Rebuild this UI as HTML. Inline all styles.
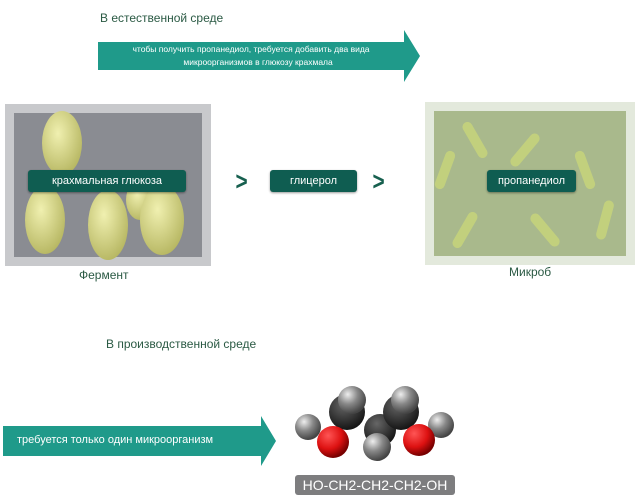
<!DOCTYPE html>
<html><head><meta charset="utf-8"><style>
body{margin:0;width:640px;height:502px;background:#fff;position:relative;overflow:hidden;font-family:"Liberation Sans",sans-serif}
.a{position:absolute}
.t{color:#2b5a44;font-size:12px}
.bar{position:absolute;background:#0f5d51;color:#fff;font-size:11px;text-align:center;border-radius:3px;line-height:22px;box-shadow:0 1px 2px #0006}
.chev{position:absolute;color:#17604f;font-size:26px;font-weight:bold;transform:scaleX(0.8)}
</style></head><body>
<div class="a t" style="left:100px;top:11px">В естественной среде</div>
<svg class="a" style="left:0;top:0" width="640" height="502">
<polygon points="98,42 404,42 404,30 420,56 404,82 404,70 98,70" fill="#1f9a8a"/>
<polygon points="3,426 261,426 261,416 276,441 261,466 261,456 3,456" fill="#1f9a8a"/>
<defs>
<radialGradient id="g" cx="0.35" cy="0.3" r="0.7"><stop offset="0" stop-color="#eee"/><stop offset="0.5" stop-color="#888"/><stop offset="1" stop-color="#444"/></radialGradient>
<radialGradient id="r" cx="0.35" cy="0.3" r="0.7"><stop offset="0" stop-color="#f55"/><stop offset="0.6" stop-color="#d11"/><stop offset="1" stop-color="#700"/></radialGradient>
<radialGradient id="k" cx="0.4" cy="0.3" r="0.7"><stop offset="0" stop-color="#666"/><stop offset="1" stop-color="#151515"/></radialGradient>
<radialGradient id="y" cx="0.4" cy="0.35" r="0.7"><stop offset="0" stop-color="#f0f0b0"/><stop offset="1" stop-color="#b5b560"/></radialGradient>
</defs>
<rect x="5" y="104" width="206" height="162" fill="#c8c9cc"/>
<rect x="14" y="113" width="188" height="144" fill="#8a8c92"/>
<ellipse cx="62" cy="143" rx="20" ry="32" fill="url(#y)"/>
<ellipse cx="140" cy="200" rx="14" ry="20" fill="url(#y)"/>
<ellipse cx="45" cy="220" rx="20" ry="34" fill="url(#y)"/>
<ellipse cx="108" cy="225" rx="20" ry="35" fill="url(#y)"/>
<ellipse cx="162" cy="220" rx="22" ry="35" fill="url(#y)"/>
<rect x="425" y="102" width="210" height="163" fill="#e3e9dc"/>
<rect x="434" y="111" width="192" height="145" fill="#a9b98c"/>
<g fill="#c9d67a" opacity="0.8">
<rect x="440" y="150" width="10" height="40" rx="5" transform="rotate(20 445 170)"/>
<rect x="470" y="120" width="10" height="40" rx="5" transform="rotate(-30 475 140)"/>
<rect x="520" y="130" width="10" height="40" rx="5" transform="rotate(40 525 150)"/>
<rect x="580" y="150" width="10" height="40" rx="5" transform="rotate(-20 585 170)"/>
<rect x="460" y="210" width="10" height="40" rx="5" transform="rotate(30 465 230)"/>
<rect x="540" y="210" width="10" height="40" rx="5" transform="rotate(-40 545 230)"/>
<rect x="600" y="200" width="10" height="40" rx="5" transform="rotate(15 605 220)"/>
</g>
<circle cx="308" cy="427" r="13" fill="url(#g)"/>
<circle cx="441" cy="425" r="13" fill="url(#g)"/>
<circle cx="380" cy="430" r="16" fill="url(#k)"/>
<circle cx="347" cy="412" r="18" fill="url(#k)"/>
<circle cx="401" cy="412" r="18" fill="url(#k)"/>
<circle cx="333" cy="442" r="16" fill="url(#r)"/>
<circle cx="419" cy="440" r="16" fill="url(#r)"/>
<circle cx="352" cy="400" r="14" fill="url(#g)"/>
<circle cx="405" cy="400" r="14" fill="url(#g)"/>
<circle cx="377" cy="447" r="14" fill="url(#g)"/>
<rect x="295" y="475" width="160" height="20" rx="3" fill="#7d7d7f"/>
<text x="375" y="490" fill="#fff" font-size="14" text-anchor="middle" font-family="Liberation Sans">HO-CH2-CH2-CH2-OH</text>
</svg>
<div class="a" style="left:98px;top:43px;width:306px;color:#fff;font-size:8.5px;text-align:center;line-height:13px">чтобы получить пропанедиол, требуется добавить два вида<br>&nbsp;&nbsp;&nbsp;&nbsp;&nbsp;&nbsp;микроорганизмов в глюкозу крахмала</div>
<div class="bar" style="left:28px;top:170px;width:158px">крахмальная глюкоза</div>
<div class="bar" style="left:270px;top:170px;width:87px">глицерол</div>
<div class="bar" style="left:487px;top:170px;width:89px">пропанедиол</div>
<div class="chev" style="left:234px;top:166px">&gt;</div>
<div class="chev" style="left:371px;top:166px">&gt;</div>
<div class="a t" style="left:79px;top:268px">Фермент</div>
<div class="a t" style="left:509px;top:265px">Микроб</div>
<div class="a t" style="left:106px;top:337px">В производственной среде</div>
<div class="a" style="left:17px;top:434px;color:#fff;font-size:11px">требуется только один микроорганизм</div>
</body></html>
